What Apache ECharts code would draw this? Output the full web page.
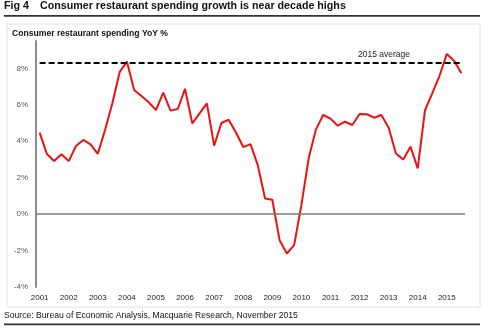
<!DOCTYPE html>
<html>
<head>
<meta charset="utf-8">
<script src="https://cdn.jsdelivr.net/npm/echarts@6/dist/echarts.min.js"></script>
<style>
html,body{margin:0;padding:0;background:#fff;}
#chart{width:488px;height:328px;}
</style>
</head>
<body>
<div id="chart"></div>
<script>
// Quarterly, 2001Q1 .. 2015Q3
var yearLabels = ['2001','2002','2003','2004','2005','2006','2007','2008','2009','2010','2011','2012','2013','2014','2015'];
var quarters = ['Q1','Q2','Q3','Q4'];
var spendingYoY = [
  4.47, 3.30, 2.91, 3.28, 2.91, 3.74, 4.07, 3.83, 3.31, 4.62,
  6.08, 7.79, 8.37, 6.81, 6.48, 6.14, 5.71, 6.67, 5.68, 5.77,
  6.87, 4.98, 5.53, 6.08, 3.76, 5.00, 5.18, 4.48, 3.68, 3.84,
  2.69, 0.86, 0.79, -1.43, -2.16, -1.70, 0.49, 3.06, 4.65, 5.44,
  5.24, 4.85, 5.07, 4.89, 5.49, 5.48, 5.29, 5.44, 4.74, 3.33,
  3.00, 3.70, 2.51, 5.70, 6.63, 7.59, 8.79, 8.42, 7.73
];
var average2015 = 8.28;
var averageLabel = '2015 average';
var yTicks = [-4, -2, 0, 2, 4, 6, 8];

var categories = [];
yearLabels.forEach(function (y) {
  quarters.forEach(function (q) { categories.push(y + ' ' + q); });
});
categories = categories.slice(0, spendingYoY.length);

var chart = echarts.init(document.getElementById('chart'), null, {renderer: 'canvas'});
var FF = '"Liberation Sans", Arial, sans-serif';

chart.setOption({
  animation: false,
  backgroundColor: '#fff',
  textStyle: {fontFamily: FF},
  grid: {left: 36, right: 23, top: 41, height: 246, containLabel: false},
  xAxis: {
    type: 'category',
    data: categories,
    boundaryGap: true,
    axisLine: {show: false},
    axisTick: {show: false},
    splitLine: {show: false},
    axisLabel: {
      interval: function (i) { return i % 4 === 0; },
      formatter: function (v) { return v.split(' ')[0]; },
      color: '#222',
      fontSize: 8,
      fontFamily: FF,
      margin: 7
    }
  },
  yAxis: {
    type: 'value',
    min: -4,
    max: 9.5,
    interval: 2,
    axisLine: {show: true, lineStyle: {color: '#8c8c8c', width: 2}},
    axisTick: {show: false},
    splitLine: {show: false},
    axisLabel: {
      showMaxLabel: false,
      formatter: function (v) { return yTicks.indexOf(v) >= 0 ? v + '%' : ''; },
      color: '#555',
      fontSize: 8,
      fontFamily: FF,
      margin: 8
    }
  },
  series: [{
    type: 'line',
    data: spendingYoY,
    symbol: 'none',
    lineStyle: {color: '#ee1111', width: 2},
    z: 3,
    markLine: {
      silent: true,
      symbol: 'none',
      label: {show: false},
      animation: false,
      data: [
        {yAxis: 0, lineStyle: {color: '#7a7a7a', width: 1.5, type: 'solid'}},
        [
          {coord: [0, average2015], lineStyle: {color: '#000', width: 2, type: [6, 3]}},
          {coord: [spendingYoY.length - 1, average2015]}
        ]
      ]
    }
  }],
  graphic: [
    {type: 'text', left: 4, top: 1, style: {text: 'Fig 4', font: 'bold 10.7px ' + FF, fill: '#111'}},
    {type: 'text', left: 40, top: 1, style: {text: 'Consumer restaurant spending growth is near decade highs', font: 'bold 10.7px ' + FF, fill: '#111'}},
    {type: 'rect', shape: {x: 4, y: 15, width: 476, height: 1.8}, style: {fill: '#333'}},
    {type: 'rect', shape: {x: 7, y: 24, width: 473, height: 283}, style: {fill: 'none', stroke: '#e2e2e2', lineWidth: 1}, z: -1},
    {type: 'text', left: 12, top: 29, style: {text: 'Consumer restaurant spending YoY %', font: 'bold 8.6px ' + FF, fill: '#111'}},
    {type: 'text', left: 358, top: 50, style: {text: averageLabel, font: '8.5px ' + FF, fill: '#222'}},
    {type: 'text', left: 4, top: 311, style: {text: 'Source: Bureau of Economic Analysis, Macquarie Research, November 2015', font: '8.6px ' + FF, fill: '#111'}},
    {type: 'rect', shape: {x: 4, y: 323.5, width: 476, height: 1.8}, style: {fill: '#333'}}
  ]
});
</script>
</body>
</html>
